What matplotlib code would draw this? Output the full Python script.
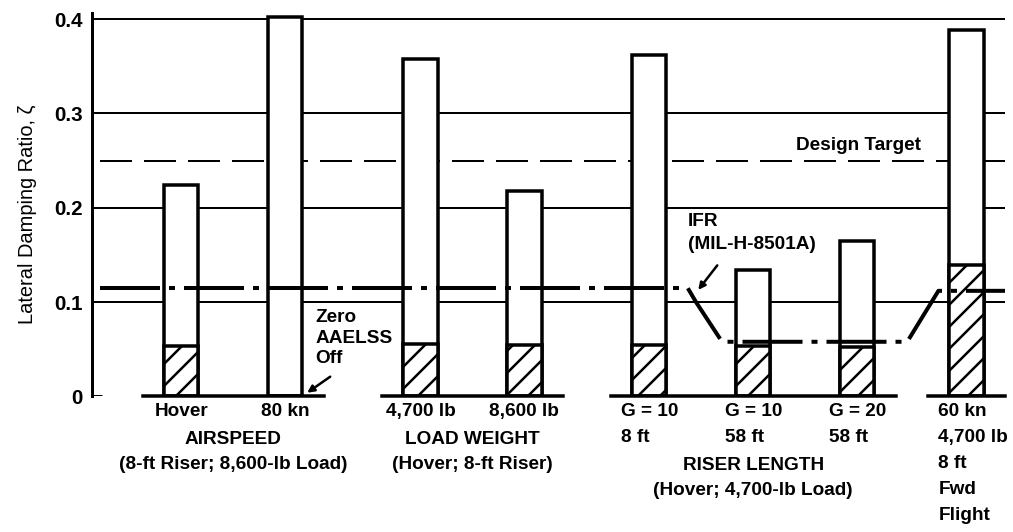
import matplotlib
matplotlib.use("Agg")
import matplotlib.pyplot as plt

DPI = 132


def px(n):
    # sizes below are worked out in output pixels
    return n * 72.0 / DPI


plt.rcParams.update({
    "font.family": "Liberation Sans",
    "font.weight": "bold",
    "lines.scale_dashes": False,
    "hatch.linewidth": px(2.5),
    "hatch.color": "black",
})

# damping ratio with the AAELSS on (open bar) and off (hatched part)
BAR_LABELS = ["Hover", "80 kn", "4,700 lb", "8,600 lb",
              "G = 10\n8 ft", "G = 10\n58 ft", "G = 20\n58 ft",
              "60 kn\n4,700 lb\n8 ft\nFwd\nFlight"]
DAMPING_ON = [0.224, 0.402, 0.358, 0.218, 0.362, 0.134, 0.165, 0.389]
DAMPING_OFF = [0.054, 0.0, 0.056, 0.055, 0.055, 0.053, 0.052, 0.139]
GROUP_TITLES = ["AIRSPEED\n(8-ft Riser; 8,600-lb Load)",
                "LOAD WEIGHT\n(Hover; 8-ft Riser)",
                "RISER LENGTH\n(Hover; 4,700-lb Load)"]
GROUP_MEMBERS = [[0, 1], [2, 3], [4, 5, 6], [7]]
Y_TICKS = [0, 0.1, 0.2, 0.3, 0.4]
Y_TICK_LABELS = ["0", "0.1", "0.2", "0.3", "0.4"]

DESIGN_TARGET = 0.25
# MIL-H-8501A IFR requirement
IFR_X = [-0.78, 4.87, 4.95, 5.2, 6.98, 7.28, 7.92]
IFR_Y = [0.115, 0.115, 0.1, 0.058, 0.058, 0.112, 0.112]

xpos = [0, 1, 2.3, 3.3, 4.5, 5.5, 6.5, 7.55]
bar_w = 0.33
x_left, x_right = -0.86, 7.92
FS = px(19)


def ypix(p):
    # vertical placement of the text under the axis, from pixel rows
    return (396.5 - p) / 943.5


fig = plt.figure(figsize=(1013 / DPI, 532 / DPI), dpi=DPI)
ax = fig.add_axes([0.0905, 0.2547, 0.9016, 0.7214])
ax.set_xlim(x_left, x_right)
ax.set_ylim(0, 0.4068)

for s in ["top", "right", "bottom"]:
    ax.spines[s].set_visible(False)
ax.spines["left"].set_linewidth(px(3))

# grid and design target sit behind the bars
ax.hlines(Y_TICKS[1:], x_left, x_right, colors="black", lw=px(2), zorder=1)
ax.plot([-0.78, x_right], [DESIGN_TARGET] * 2, color="black", lw=px(2),
        linestyle=(0, (px(32), px(12))), zorder=1)
ax.text(6.51, ypix(150), "Design Target", ha="center", va="baseline",
        fontsize=FS)

ax.bar(xpos, DAMPING_ON, bar_w, color="white", edgecolor="black",
       linewidth=px(3.5), zorder=3)
ax.bar(xpos, DAMPING_OFF, bar_w, color="white", edgecolor="black",
       hatch="//", linewidth=px(3.5), zorder=4)

ax.plot(IFR_X, IFR_Y, color="black", lw=px(4), zorder=5, clip_on=False,
        linestyle=(0, (px(60), px(9), px(6), px(9))))

# zero line only under each group of bars
ax.plot([x_left, -0.76], [0, 0], color="black", lw=px(3), zorder=6,
        solid_capstyle="butt")
for i, members in enumerate(GROUP_MEMBERS):
    lo = xpos[members[0]] - 0.37
    hi = x_right if i == len(GROUP_MEMBERS) - 1 else xpos[members[-1]] + 0.37
    ax.plot([lo, hi], [0, 0], color="black", lw=px(3.5), zorder=6,
            clip_on=False)

ax.set_xticks([])
ax.set_yticks(Y_TICKS)
ax.set_yticklabels(Y_TICK_LABELS)
ax.tick_params(axis="y", length=0, pad=px(9), labelsize=px(20.5))
ax.set_ylabel("Lateral Damping Ratio, ζ", fontsize=px(20), fontweight="normal")
ax.yaxis.set_label_coords(-0.06, 0.4755)

for x, lab in zip(xpos, BAR_LABELS):
    if "\n" in lab:
        ax.text(x - 0.27, ypix(403.5), lab, ha="left", va="top", fontsize=FS,
                linespacing=1.69, clip_on=False)
    else:
        ax.text(x, ypix(403.5), lab, ha="center", va="top", fontsize=FS,
                clip_on=False)

# the riser-length title sits under the two-line bar labels
title_tops = [431.0, 431.0, 457.5]
for members, title, top in zip(GROUP_MEMBERS, GROUP_TITLES, title_tops):
    xc = sum(xpos[m] for m in members) / len(members)
    ax.text(xc, ypix(top), title, ha="center", va="top", fontsize=FS,
            linespacing=1.6, clip_on=False)

ax.text(1.288, ypix(308.6), "Zero\nAAELSS\nOff", ha="left", va="top",
        fontsize=FS, linespacing=1.3)
ax.annotate("", xy=(1.212, 0.004), xytext=(1.433, 0.021),
            arrowprops=dict(arrowstyle="-|>", lw=px(2.5), color="black",
                            mutation_scale=px(14), shrinkA=0, shrinkB=0),
            zorder=7)

ax.text(4.875, ypix(213.1), "IFR\n(MIL-H-8501A)", ha="left", va="top",
        fontsize=FS, linespacing=1.45)
ax.annotate("", xy=(4.971, 0.113), xytext=(5.154, 0.139),
            arrowprops=dict(arrowstyle="-|>", lw=px(2.5), color="black",
                            mutation_scale=px(14), shrinkA=0, shrinkB=0),
            zorder=7)

fig.savefig("out.png", dpi=DPI)
